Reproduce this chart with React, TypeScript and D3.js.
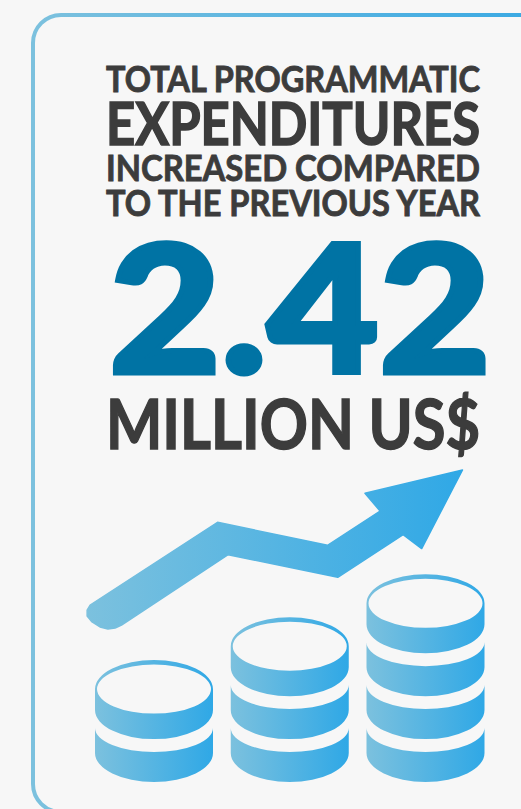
import React from "react";
import * as d3 from "d3";

// Headline copy
const titleLines = ["TOTAL PROGRAMMATIC", "EXPENDITURES", "INCREASED COMPARED", "TO THE PREVIOUS YEAR"];
const amountValue = "2.42";
const amountUnit = "MILLION US$";

// Coin stacks, bar-style: number of coins per stack
const stackCoins = [2, 3, 4];
const stackOrder = ["a", "b", "c"];

// Trend arrow outline on a 0-100 icon grid
const arrowX = [1.1, 34.8, 63.9, 77.8, 73.8, 99.6, 88.8, 83.9, 66.6, 37.6, 9.4, 7.7, 5.8, 3.7, 1.6, 0.3, 0.3];
const arrowY = [15.5, 66.9, 52.6, 73.9, 84.9, 99.4, 50.6, 59.2, 32.7, 46.8, 3.1, 1.2, 0.6, 1.9, 5.0, 8.7, 12.4];

const W = 521;
const H = 809;
const DARK = "#3c3c3c";
const BLUE = "#0073a4";

const textLeft = 106;
const textWidth = 374;
const titleBase = [92, 145.3, 181.3, 216.3];
const titleSize = [36, 59, 36.5, 35.5];

const xArrow = d3.scaleLinear().domain([0, 100]).range([86, 464]);
const yArrow = d3.scaleLinear().domain([0, 100]).range([630, 469]);
const arrowPath = d3
  .line<number>()
  .x((d) => xArrow(arrowX[d]))
  .y((d) => yArrow(arrowY[d]))
  .curve(d3.curveLinearClosed)(d3.range(arrowX.length)) as string;

// Horizontal placement of each stack, vertical placement of each coin
const xStack = d3.scalePoint<string>().domain(stackOrder).range([154, 425.5]);
const yCoin = d3.scaleLinear().domain([0, 4]).range([782, 610.4]);
const RX = 59;
const RY = 29;

function coinPath(cx: number, bottom: number, isTop: boolean): string {
  const l = cx - RX;
  const r = cx + RX;
  const low = `L${r},${bottom - RY}A${RX},${RY} 0 0 1 ${l},${bottom - RY}Z`;
  if (isTop) {
    const c = bottom - 50;
    const inner = `M${cx - 57},${c}A57,24.5 0 1 0 ${cx + 57},${c}A57,24.5 0 1 0 ${cx - 57},${c}Z`;
    return `M${l},${c}A${RX},${RY} 0 0 1 ${r},${c}${low}${inner}`;
  }
  const top = bottom - 54;
  return `M${l},${top}A${RX},24 0 0 0 ${r},${top}${low}`;
}

export default function App() {
  return (
    <svg
      width={W}
      height={H}
      viewBox={`0 0 ${W} ${H}`}
      style={{ position: "fixed", left: 0, top: 0, display: "block" }}
    >
      <defs>
        <linearGradient id="frameFill" gradientUnits="userSpaceOnUse" x1={33} y1={0} x2={540} y2={0}>
          <stop offset="0" stopColor="#7cc1de" />
          <stop offset="1" stopColor="#3aa9e3" />
        </linearGradient>
        <linearGradient id="arrowFill" gradientUnits="userSpaceOnUse" x1={86} y1={0} x2={464} y2={0}>
          <stop offset="0" stopColor="#7cc1de" />
          <stop offset="1" stopColor="#2fa8e6" />
        </linearGradient>
        <linearGradient id="coinFill" x1={0} y1={0} x2={1} y2={0}>
          <stop offset="0" stopColor="#7cc1de" />
          <stop offset="1" stopColor="#2fa8e6" />
        </linearGradient>
      </defs>

      <rect width={W} height={H} fill="#f7f7f7" />
      <rect x={33} y={15} width={560} height={797} rx={28} ry={28} fill="none" stroke="url(#frameFill)" strokeWidth={4} />

      <g fontFamily="Lato, sans-serif" fill={DARK} stroke={DARK} fontWeight={700}>
        {titleLines.map((line, i) => (
          <text key={line} x={textLeft} y={titleBase[i]} fontSize={titleSize[i]} strokeWidth={i === 1 ? 1.6 : 0.9} textLength={textWidth} lengthAdjust="spacingAndGlyphs">
            {line}
          </text>
        ))}
        <text x={textLeft} y={448.5} fontSize={68.5} strokeWidth={1.4} textLength={textWidth} lengthAdjust="spacingAndGlyphs">
          {amountUnit}
        </text>
      </g>
      <text x={109} y={373} fontFamily="Lato, sans-serif" fontWeight={900} fontSize={178} fill={BLUE} stroke={BLUE} strokeWidth={5} textLength={382} lengthAdjust="spacingAndGlyphs">
        {amountValue}
      </text>

      <path d={arrowPath} fill="url(#arrowFill)" stroke="url(#arrowFill)" strokeWidth={1.5} strokeLinejoin="round" />

      {stackCoins.map((count, s) => {
        const cx = xStack(stackOrder[s]) as number;
        return (
          <g key={stackOrder[s]}>
            {d3.range(count).map((k) => (
              <path key={k} d={coinPath(cx, yCoin(k), k === count - 1)} fill="url(#coinFill)" fillRule="evenodd" />
            ))}
          </g>
        );
      })}
    </svg>
  );
}
